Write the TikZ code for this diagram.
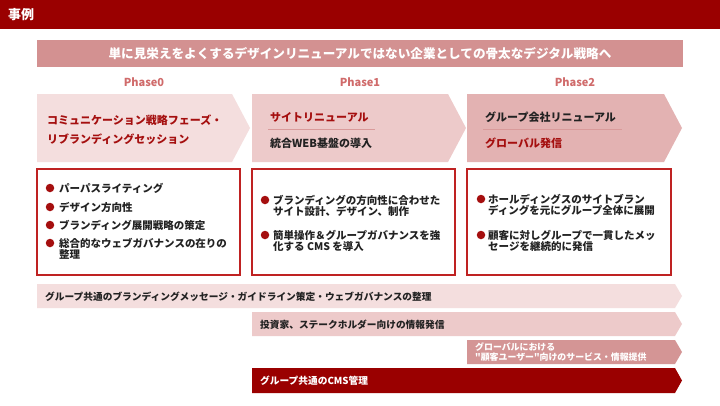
\documentclass[tikz,border=0pt]{standalone}
\usepackage{fontspec}
\newfontfamily\jp{Noto Sans CJK JP}
\definecolor{hdr}{HTML}{9A0000}
\definecolor{banner}{HTML}{D39191}
\definecolor{phasec}{HTML}{D06B6B}
\definecolor{chevA}{HTML}{F4DEDE}
\definecolor{chevB}{HTML}{EDCACA}
\definecolor{chevC}{HTML}{E3B2B2}
\definecolor{rowC}{HTML}{D49595}
\definecolor{dred}{HTML}{A50F0F}
\definecolor{bord}{HTML}{BF2222}
\definecolor{sepl}{HTML}{D99A9A}
\definecolor{dark}{HTML}{222222}
\tikzset{
  txt/.style={inner sep=0pt, anchor=west, font=\jp\bfseries},
  bodytxt/.style={txt, align=left, text=dark, font=\jp\bfseries\fontsize{10.5}{11.6}\selectfont},
  chevtxt/.style={txt, font=\jp\bfseries\fontsize{11}{12}\selectfont},
  rowtxt/.style={txt, font=\jp\bfseries\fontsize{9.7}{11}\selectfont},
  phasetxt/.style={inner sep=0pt, text=phasec, font=\jp\bfseries\fontsize{11}{12}\selectfont},
  bul/.style={circle, fill=dred, inner sep=0pt, minimum size=8.5pt},
  boxframe/.style={draw=bord, line width=1.5pt, fill=white},
  sepline/.style={draw=sepl, line width=1pt}
}
\begin{document}
\begin{tikzpicture}[x=1pt,y=-1pt]
\useasboundingbox (0,0) rectangle (720,405);
\fill[white] (0,0) rectangle (720,405);
% header
\fill[hdr] (0,0) rectangle (720,29);
\node[txt, text=white, font=\jp\bfseries\fontsize{13}{14}\selectfont] (title) at (8,15) {事例};
% banner
\fill[banner] (37,40) rectangle (683,67);
\node[inner sep=0pt, text=white, font=\jp\bfseries\fontsize{12.6}{14}\selectfont] (banner) at (360,53.5) {単に見栄えをよくするデザインリニューアルではない企業としての骨太なデジタル戦略へ};
% phases
\node[phasetxt] (p0) at (144,82) {Phase0};
\node[phasetxt] (p1) at (360,82) {Phase1};
\node[phasetxt] (p2) at (575,82) {Phase2};
% chevrons
\fill[chevA] (37,94) -- (232,94) -- (250,128) -- (232,162) -- (37,162) -- cycle;
\fill[chevB] (252,94) -- (448,94) -- (466,128) -- (448,162) -- (252,162) -- cycle;
\fill[chevC] (467,94) -- (664,94) -- (682,128) -- (664,162) -- (467,162) -- cycle;
\node[chevtxt, text=dred, align=left, font=\jp\bfseries\fontsize{11}{19}\selectfont] (c0) at (47,129.5) {コミュニケーション戦略フェーズ・\\リブランディングセッション};
\node[chevtxt, text=dred] (c1a) at (270,117) {サイトリニューアル};
\draw[sepline] (268,129.5) -- (375,129.5);
\node[chevtxt, text=dark] (c1b) at (270,143) {統合WEB基盤の導入};
\node[chevtxt, text=dark] (c2a) at (485,117) {グループ会社リニューアル};
\draw[sepline] (483,129.5) -- (622,129.5);
\node[chevtxt, text=dred] (c2b) at (485,143) {グローバル発信};
% boxes
\draw[boxframe] (37,169) rectangle (240,275);
\draw[boxframe] (252,169) rectangle (455,275);
\draw[boxframe] (467,169) rectangle (671,275);
% box 0
\node[bul] (b01) at (50,188) {};
\node[bodytxt] (t01) at (59,188) {パーパスライティング};
\node[bul] (b02) at (50,207) {};
\node[bodytxt] (t02) at (59,207) {デザイン方向性};
\node[bul] (b03) at (50,225) {};
\node[bodytxt] (t03) at (59,225) {ブランディング展開戦略の策定};
\node[bul] (b04) at (50,243) {};
\node[bodytxt] (t04) at (59,248.8) {総合的なウェブガバナンスの在りの\\整理};
% box 1
\node[bul] (b11) at (265,200) {};
\node[bodytxt] (t11) at (273,205.8) {ブランディングの方向性に合わせた\\サイト設計、デザイン、制作};
\node[bul] (b12) at (265,235) {};
\node[bodytxt] (t12) at (273,240.8) {簡単操作＆グループガバナンスを強\\化する CMS を導入};
% box 2
\node[bul] (b21) at (481,199) {};
\node[bodytxt] (t21) at (488,204.8) {ホールディングスのサイトブラン\\ディングを元にグループ全体に展開};
\node[bul] (b22) at (481,235) {};
\node[bodytxt] (t22) at (488,240.8) {顧客に対しグループで一貫したメッ\\セージを継続的に発信};
% bottom rows
\fill[chevA] (37,284) -- (675,284) -- (682,296) -- (675,308) -- (37,308) -- cycle;
\node[rowtxt, text=dark] (r1) at (45,296.5) {グループ共通のブランディングメッセージ・ガイドライン策定・ウェブガバナンスの整理};
\fill[chevB] (252,312) -- (675,312) -- (682,324) -- (675,336) -- (252,336) -- cycle;
\node[rowtxt, text=dark] (r2) at (260,324.5) {投資家、ステークホルダー向けの情報発信};
\fill[rowC] (467,340) -- (675,340) -- (682,352) -- (675,364) -- (467,364) -- cycle;
\node[txt, text=white, align=left, font=\jp\bfseries\fontsize{8.9}{10}\selectfont] (r3) at (475,352) {グローバルにおける\\"顧客ユーザー"向けのサービス・情報提供};
\fill[hdr] (252,368) -- (675,368) -- (682,380.5) -- (675,393) -- (252,393) -- cycle;
\node[rowtxt, text=white] (r4) at (260,380.5) {グループ共通のCMS管理};
\end{tikzpicture}
\end{document}
